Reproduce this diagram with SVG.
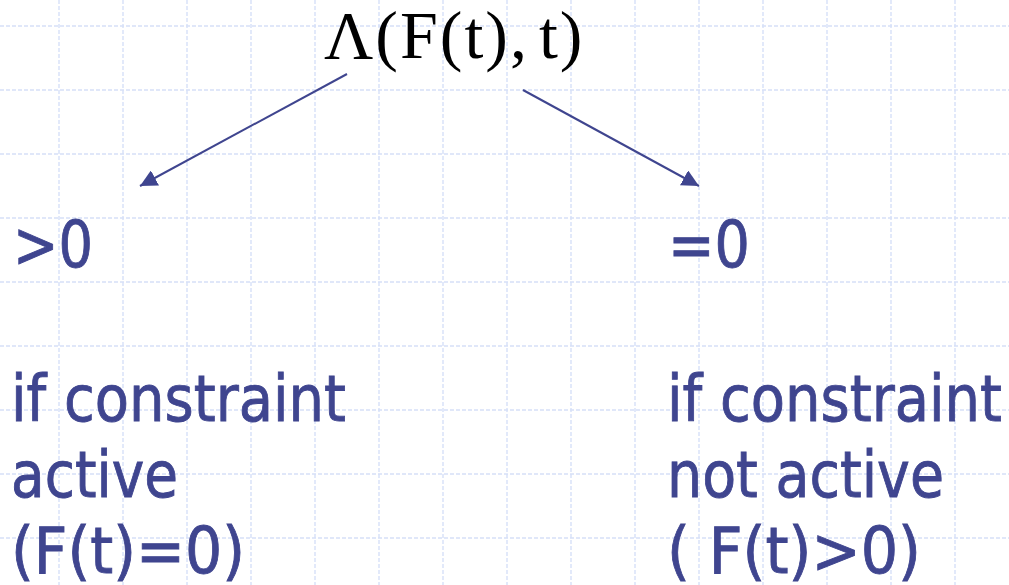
<svg xmlns="http://www.w3.org/2000/svg" width="1009" height="585" viewBox="0 0 1009 585">
<defs>
<style>
.grid line{stroke:#d6e0f8;stroke-width:1.4;stroke-dasharray:4 2}
.conn{stroke:#3f458f;stroke-width:2;fill:none}
.lbl{font-family:"DejaVu Sans","Noto Sans",sans-serif;font-size:64px;fill:#3f458f;stroke:#3f458f;stroke-width:0.9}
.title{font-family:"Liberation Serif","Times New Roman",serif;font-size:68px;fill:#000;letter-spacing:2px}
</style>
<marker id="ah" markerUnits="userSpaceOnUse" viewBox="0 0 16 16" refX="16" refY="8" markerWidth="17" markerHeight="17" orient="auto">
<path d="M0,0 L16,8 L0,16 z" fill="#3f458f"/>
</marker>
</defs>
<rect width="1009" height="585" fill="#fff"/>
<g class="grid">
<line x1="0" y1="26" x2="1009" y2="26"/>
<line x1="0" y1="90" x2="1009" y2="90"/>
<line x1="0" y1="154" x2="1009" y2="154"/>
<line x1="0" y1="218" x2="1009" y2="218"/>
<line x1="0" y1="282" x2="1009" y2="282"/>
<line x1="0" y1="346" x2="1009" y2="346"/>
<line x1="0" y1="410" x2="1009" y2="410"/>
<line x1="0" y1="474" x2="1009" y2="474"/>
<line x1="0" y1="538" x2="1009" y2="538"/>
<line x1="59" y1="0" x2="59" y2="585"/>
<line x1="123" y1="0" x2="123" y2="585"/>
<line x1="187" y1="0" x2="187" y2="585"/>
<line x1="251" y1="0" x2="251" y2="585"/>
<line x1="315" y1="0" x2="315" y2="585"/>
<line x1="379" y1="0" x2="379" y2="585"/>
<line x1="443" y1="0" x2="443" y2="585"/>
<line x1="507" y1="0" x2="507" y2="585"/>
<line x1="571" y1="0" x2="571" y2="585"/>
<line x1="635" y1="0" x2="635" y2="585"/>
<line x1="699" y1="0" x2="699" y2="585"/>
<line x1="763" y1="0" x2="763" y2="585"/>
<line x1="827" y1="0" x2="827" y2="585"/>
<line x1="891" y1="0" x2="891" y2="585"/>
<line x1="955" y1="0" x2="955" y2="585"/>
</g>
<g id="title">
<text class="title" x="324" y="58">Λ(F(t),<tspan dx="10">t)</tspan></text>
</g>
<g id="connectors">
<line class="conn" x1="347" y1="74" x2="140" y2="186" marker-end="url(#ah)"/>
<line class="conn" x1="523" y1="90" x2="699" y2="186" marker-end="url(#ah)"/>
</g>
<g id="left">
<text class="lbl" x="13" y="267" textLength="80" lengthAdjust="spacingAndGlyphs">&gt;0</text>
<text class="lbl" x="11" y="421" textLength="335" lengthAdjust="spacingAndGlyphs">if constraint</text>
<text class="lbl" x="11" y="497" textLength="167" lengthAdjust="spacingAndGlyphs">active</text>
<text class="lbl" x="11" y="573" textLength="234" lengthAdjust="spacingAndGlyphs">(F(t)=0)</text>
</g>
<g id="right">
<text class="lbl" x="668" y="267" textLength="82" lengthAdjust="spacingAndGlyphs">=0</text>
<text class="lbl" x="667" y="421" textLength="335" lengthAdjust="spacingAndGlyphs">if constraint</text>
<text class="lbl" x="667" y="497" textLength="277" lengthAdjust="spacingAndGlyphs">not active</text>
<text class="lbl" x="667" y="573" textLength="254" lengthAdjust="spacingAndGlyphs">( F(t)&gt;0)</text>
</g>
</svg>
